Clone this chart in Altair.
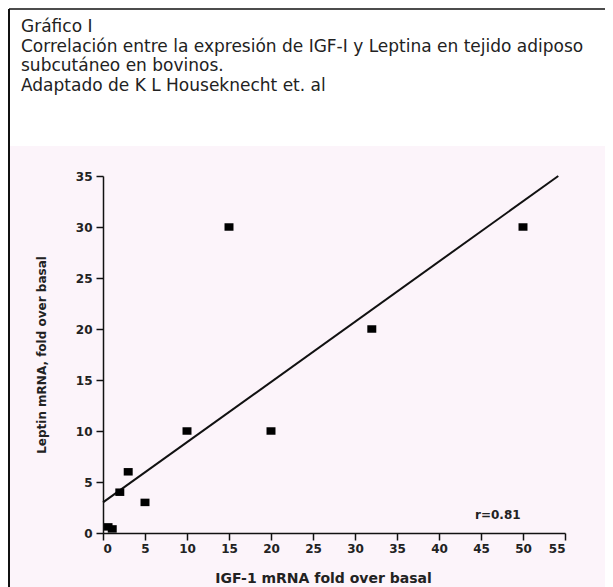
import altair as alt
import pandas as pd

# Data
igf1 = [0.6, 1.1, 2, 3, 5, 10, 15, 20, 32, 50]
leptin = [0.6, 0.4, 4, 6, 3, 10, 30, 10, 20, 30]

fit_x = [0, 54.2]
fit_y = [3, 35]

x_ticks = [0, 5, 10, 15, 20, 25, 30, 35, 40, 45, 50, 55]
y_ticks = [0, 5, 10, 15, 20, 25, 30, 35]

title_lines = [
    "Gráfico I",
    "Correlación entre la expresión de IGF-I y Leptina en tejido adiposo",
    "subcutáneo en bovinos.",
    "Adaptado de K L Houseknecht et. al",
]
annotation = "r=0.81"
annot_x, annot_y = 47, 1.8

x_title = "IGF-1 mRNA fold over basal"
y_title = "Leptin mRNA, fold over basal"

pts = pd.DataFrame({"x": igf1, "y": leptin})
fit = pd.DataFrame({"x": fit_x, "y": fit_y})
one = alt.Data(values=[{}])

xs = alt.Scale(domain=[0, 55], nice=False, zero=False)
ys = alt.Scale(domain=[0, 35], nice=False, zero=False)

axis_common = dict(
    grid=False,
    zindex=1,
    domainColor="#111",
    domainWidth=1.5,
    tickColor="#111",
    tickWidth=1.5,
    tickSize=7,
    labelFont="DejaVu Sans",
    labelFontWeight="bold",
    labelFontSize=12,
    labelColor="#222",
    titleFont="DejaVu Sans",
    titleFontWeight="bold",
    titleColor="#222",
)

bg = alt.Chart(one).mark_rect(color="#fcf4fa").encode(
    x=alt.value(-93), x2=alt.value(510), y=alt.value(-30), y2=alt.value(420)
)
border_left = alt.Chart(one).mark_rule(color="#111", strokeWidth=2).encode(
    x=alt.value(-94), y=alt.value(-167), y2=alt.value(420)
)
border_top = alt.Chart(one).mark_rule(color="#111", strokeWidth=1.5).encode(
    x=alt.value(-94), x2=alt.value(520), y=alt.value(-167)
)

texts = []
for i, line in enumerate(title_lines):
    texts.append(
        alt.Chart(one).mark_text(
            align="left", baseline="alphabetic", font="DejaVu Sans", fontSize=17, color="#222"
        ).encode(x=alt.value(-82), y=alt.value(-144 + i * 19.5), text=alt.value(line))
    )

line = alt.Chart(fit).mark_line(color="#111", strokeWidth=2).encode(
    x=alt.X("x:Q", scale=xs,
            axis=alt.Axis(values=x_ticks, title=x_title, titleFontSize=14,
                          labelPadding=3, titleX=220, titleY=49,
                          titleBaseline="alphabetic", **axis_common)),
    y=alt.Y("y:Q", scale=ys,
            axis=alt.Axis(values=y_ticks, title=y_title, titleFontSize=12,
                          labelPadding=4, titleX=-58, titleBaseline="alphabetic",
                          **axis_common)),
)

points = alt.Chart(pts).mark_point(
    shape="M-1.2,-1H1.2V1H-1.2Z", filled=True, color="#000", opacity=1, size=56
).encode(x=alt.X("x:Q", scale=xs), y=alt.Y("y:Q", scale=ys))

annot = alt.Chart(alt.Data(values=[{"x": annot_x, "y": annot_y, "t": annotation}])).mark_text(
    font="DejaVu Sans", fontWeight="bold", fontSize=12, color="#222"
).encode(x=alt.X("x:Q", scale=xs), y=alt.Y("y:Q", scale=ys), text="t:N")

chart = alt.layer(bg, border_left, border_top, *texts, line, points, annot).properties(
    width=462,
    height=357,
    autosize=alt.AutoSizeParams(type="none"),
    padding={"left": 95, "top": 168, "right": 40, "bottom": 62},
    background="white",
).configure_view(stroke=None)

chart.save("out.html", embed_options={"renderer": "svg", "actions": False})
